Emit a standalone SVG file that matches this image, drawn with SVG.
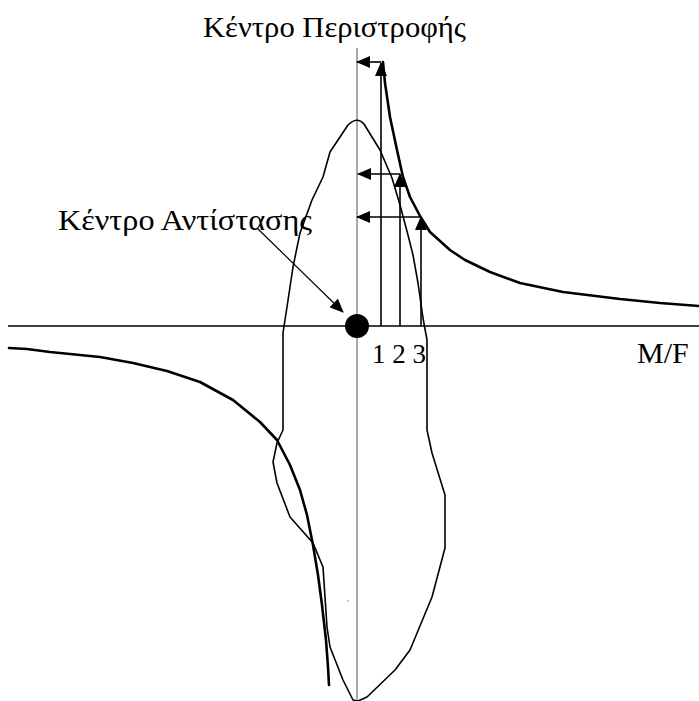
<svg xmlns="http://www.w3.org/2000/svg" width="699" height="701" viewBox="0 0 699 701">
<style>
text{font-family:"Liberation Serif","Times New Roman",serif;font-size:30px;fill:#000}
.num{font-size:27px}
.ax{stroke:#000;stroke-width:1.3;fill:none}
.vax{stroke:#7a7a7a;stroke-width:1.3;fill:none}
.hyp{stroke:#000;stroke-width:2.6;fill:none;stroke-linejoin:round;stroke-linecap:round}
.blob{stroke:#000;stroke-width:1.6;fill:none;stroke-linejoin:round}
.arr{stroke:#000;stroke-width:1.6;fill:none;marker-end:url(#ah)}
.lead{stroke:#000;stroke-width:1.2;fill:none;marker-end:url(#ah)}
</style>
<defs>
<marker id="ah" viewBox="0 0 14 12" refX="13" refY="6" markerWidth="14" markerHeight="12" markerUnits="userSpaceOnUse" orient="auto">
<path d="M0,0 L14,6 L0,12 z" fill="#000"/>
</marker>
</defs>
<g id="axes">
<line class="ax" x1="8" y1="326" x2="699" y2="326"/>
<line class="vax" x1="357" y1="48" x2="357" y2="701"/>
</g>
<g id="blob">
<path class="blob" d="M348,125 Q357,116 364,124 L380,150 L392,178 L400,205 L408,235 L413,255 L418,283 L423,318 L427,340 L427,430 L432,453 L445,495 L445,548 L432,597 L410,650 L395,670 L367,697 L358,701 L353,700 L343,680 L330,647 L327,627 L323,567 L313,543 L290,517 L277,483 L273,462 L277,443 L283,430 L283,333 L287,307 L293,267 L300,233 L312,200 L323,177 L330,152 Z"/>
</g>
<g id="curve-right">
<path class="hyp" d="M383,62 L385,83 L390,117 L397,150 L403,177 L410,197 L420,216 L430,232 L450,250 L465,260 L490,272 L520,283 L563,292 L620,299 L660,303 L699,306"/>
</g>
<g id="curve-left">
<path class="hyp" d="M9,348 L27,349 L50,352 L70,354 L100,357 L133,363 L167,371 L200,382 L233,400 L260,422 L277,440 L290,465 L300,490 L307,515 L313,545 L318,575 L322,605 L326,640 L328,667 L329,685"/>
</g>
<g id="resistance-center">
<circle cx="357" cy="326" r="12" fill="#000"/>
</g>
<g id="connectors">
<line class="arr" x1="381" y1="326" x2="381" y2="63"/>
<line class="arr" x1="381" y1="62" x2="357" y2="62"/>
<line class="arr" x1="400" y1="326" x2="400" y2="174"/>
<line class="arr" x1="400" y1="174" x2="358" y2="174"/>
<line class="arr" x1="421" y1="326" x2="421" y2="217"/>
<line class="arr" x1="421" y1="217" x2="357" y2="217"/>
<line class="lead" x1="257" y1="228" x2="343" y2="312"/>
</g>
<circle cx="348" cy="601" r="0.8" fill="#888"/>
<g id="labels">
<text x="203" y="37" textLength="263" lengthAdjust="spacingAndGlyphs">Κέντρο Περιστροφής</text>
<text x="58" y="230" textLength="254" lengthAdjust="spacingAndGlyphs">Κέντρο Αντίστασης</text>
<text class="num" x="372" y="363">1 2 3</text>
<text x="637" y="363">M/F</text>
</g>
</svg>
